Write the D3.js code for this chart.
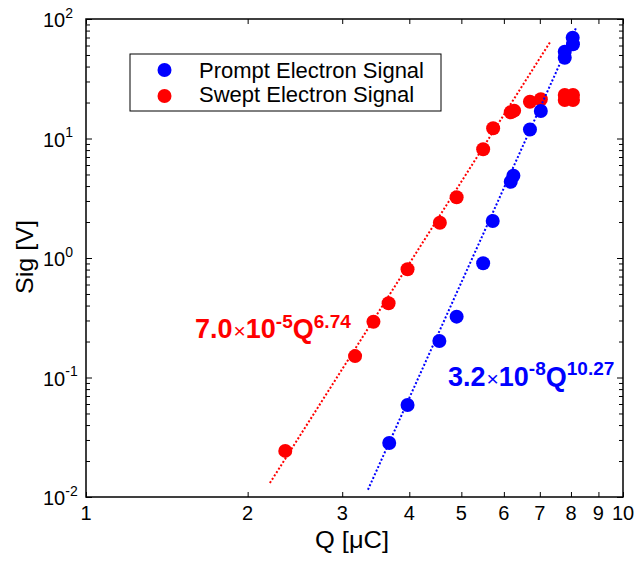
<!DOCTYPE html>
<html><head><meta charset="utf-8">
<script src="https://cdn.jsdelivr.net/npm/d3@7"></script>
<style>
body{margin:0;background:#fff}
svg{display:block}
text{font-family:"Liberation Sans",Arial,Helvetica,sans-serif}
</style>
</head><body>
<svg id="chart" width="634" height="563"></svg>
<script>
// ---- data ----
const promptQ   = [3.67, 3.97, 4.55, 4.90, 5.49, 5.72, 6.18, 6.25, 6.71, 7.03, 7.79, 7.79, 8.06, 8.07];
const promptSig = [0.0283, 0.0589, 0.202, 0.323, 0.904, 2.04, 4.35, 4.88, 11.9, 17.0, 47.4, 53.2, 69.8, 61.4];
const sweptQ    = [2.35, 3.17, 3.43, 3.66, 3.97, 4.56, 4.90, 5.49, 5.73, 6.18, 6.27, 6.71, 7.03, 7.79, 7.79, 8.07, 8.07];
const sweptSig  = [0.0243, 0.151, 0.293, 0.418, 0.804, 1.97, 3.22, 8.13, 12.2, 16.6, 17.1, 20.3, 21.3, 23.1, 21.0, 23.1, 21.0];
// fitted power-law lines (end points as drawn)
const promptFitQ   = [3.35, 8.18];
const promptFitSig = [0.0115, 84.6];
const sweptFitQ    = [2.20, 7.31];
const sweptFitSig  = [0.0131, 63.8];
// fit annotations
const fitCoef = ["3.2", "7.0"];
const fitExp  = ["-8", "-5"];
const fitPow  = ["10.27", "6.74"];
// axes
const xTicks = [1, 2, 3, 4, 5, 6, 7, 8, 9, 10];
const xTickLabels = ["1", "2", "3", "4", "5", "6", "7", "8", "9", "10"];
const yDecades = [-2, -1, 0, 1, 2];
const yTickLabels = ["-2", "-1", "0", "1", "2"];
const seriesNames = ["Prompt Electron Signal", "Swept Electron Signal"];
const seriesColors = ["#0000ff", "#ff0000"];
const xTitle = "Q [\u03BCC]";
const yTitle = "Sig [V]";

// ---- layout ----
const L = 86, R = 623, T = 19, B = 497;
const svg = d3.select("#chart");
const x = d3.scaleLog().domain([1, 10]).range([L, R]);
const y = d3.scaleLog().domain([0.01, 100]).range([B, T]);

// y tick values (majors + minors)
const yAll = [];
yDecades.forEach(d => {
  for (let m = 1; m <= 9; m++) {
    if (d === 2 && m > 1) break;
    yAll.push(m * Math.pow(10, d));
  }
});
const isMajor = v => Math.abs(Math.log10(v) - Math.round(Math.log10(v))) < 1e-9;

// ---- markers ----
const r = 7;
svg.append("g").selectAll("circle").data(sweptQ.map((q, i) => [q, sweptSig[i]]))
  .join("circle").attr("cx", d => x(d[0])).attr("cy", d => y(d[1])).attr("r", r)
  .attr("fill", seriesColors[1]);
svg.append("g").selectAll("circle").data(promptQ.map((q, i) => [q, promptSig[i]]))
  .join("circle").attr("cx", d => x(d[0])).attr("cy", d => y(d[1])).attr("r", r)
  .attr("fill", seriesColors[0]);

// ---- fit lines ----
const line = d3.line().x(d => x(d[0])).y(d => y(d[1]));
[[sweptFitQ, sweptFitSig, seriesColors[1]], [promptFitQ, promptFitSig, seriesColors[0]]].forEach(([qs, ss, c]) => {
  svg.append("path").datum(qs.map((q, i) => [q, ss[i]]))
    .attr("d", line).attr("fill", "none").attr("stroke", c)
    .attr("stroke-width", 2).attr("stroke-dasharray", "2,2");
});

// ---- axes ----
const axB = svg.append("g").attr("transform", `translate(0,${B})`)
  .call(d3.axisBottom(x).tickValues(xTicks).tickSizeInner(-5).tickSizeOuter(0).tickFormat(""));
const axT = svg.append("g").attr("transform", `translate(0,${T})`)
  .call(d3.axisTop(x).tickValues(xTicks).tickSizeInner(-5).tickSizeOuter(0).tickFormat(""));
const axLft = svg.append("g").attr("transform", `translate(${L},0)`)
  .call(d3.axisLeft(y).tickValues(yAll).tickSizeInner(-4).tickSizeOuter(0).tickFormat(""));
const axRgt = svg.append("g").attr("transform", `translate(${R},0)`)
  .call(d3.axisRight(y).tickValues(yAll).tickSizeInner(-4).tickSizeOuter(0).tickFormat(""));
axLft.selectAll(".tick line").attr("x2", d => isMajor(d) ? 6 : 4);
axRgt.selectAll(".tick line").attr("x2", d => isMajor(d) ? -6 : -4);
[axB, axT, axLft, axRgt].forEach(a => {
  a.select(".domain").remove();
  a.selectAll(".tick line").attr("stroke", "#000").attr("stroke-width", 1);
});
svg.append("rect").attr("x", L).attr("y", T).attr("width", R - L).attr("height", B - T)
  .attr("fill", "none").attr("stroke", "#000").attr("stroke-width", 1.5);

// x tick labels
svg.append("g").selectAll("text").data(xTicks).join("text")
  .attr("x", d => x(d)).attr("y", B + 23).attr("text-anchor", "middle")
  .attr("font-size", 20).attr("fill", "#000")
  .text((d, i) => xTickLabels[i]);

// y tick labels 10^n
const yl = svg.append("g").selectAll("text").data(yDecades).join("text")
  .attr("x", 43).attr("y", d => y(Math.pow(10, d)) + 8)
  .attr("font-size", 20).attr("fill", "#000");
yl.append("tspan").text("10");
yl.append("tspan").attr("font-size", 14).attr("dy", -9.5).text((d, i) => yTickLabels[i]);

// axis titles
svg.append("text").attr("x", 352).attr("y", 548).attr("text-anchor", "middle")
  .attr("font-size", 24).attr("textLength", 74).attr("lengthAdjust", "spacingAndGlyphs").text(xTitle);
svg.append("text").attr("transform", "translate(33,257) rotate(-90)").attr("text-anchor", "middle")
  .attr("font-size", 24).attr("textLength", 74).attr("lengthAdjust", "spacingAndGlyphs").text(yTitle);

// ---- legend ----
const lg = svg.append("g");
lg.append("rect").attr("x", 130).attr("y", 54).attr("width", 311).attr("height", 57)
  .attr("fill", "#fff").attr("stroke", "#000").attr("stroke-width", 1);
seriesNames.forEach((n, i) => {
  const cy = 70 + i * 26;
  lg.append("circle").attr("cx", 164.5).attr("cy", cy).attr("r", r).attr("fill", seriesColors[i]);
  lg.append("text").attr("x", 199).attr("y", cy + 7.5 - i * 1.5).attr("font-size", 22).attr("fill", "#000").text(n);
});

// ---- fit annotations ----
const annPos = [[448, 386, -11], [195, 338, -10]];
fitCoef.forEach((c, i) => {
  const t = svg.append("text").attr("x", annPos[i][0]).attr("y", annPos[i][1])
    .attr("font-size", 27).attr("font-weight", "bold").attr("fill", seriesColors[i]);
  t.append("tspan").text(c);
  t.append("tspan").attr("font-weight", "normal").attr("font-size", 21).attr("dx", 1).text("\u00D7");
  t.append("tspan").text("10");
  t.append("tspan").attr("font-size", 19).attr("dy", annPos[i][2]).text(fitExp[i]);
  t.append("tspan").attr("dy", -annPos[i][2]).text("Q");
  t.append("tspan").attr("font-size", 19).attr("dy", annPos[i][2]).text(fitPow[i]);
});
</script>
</body></html>
